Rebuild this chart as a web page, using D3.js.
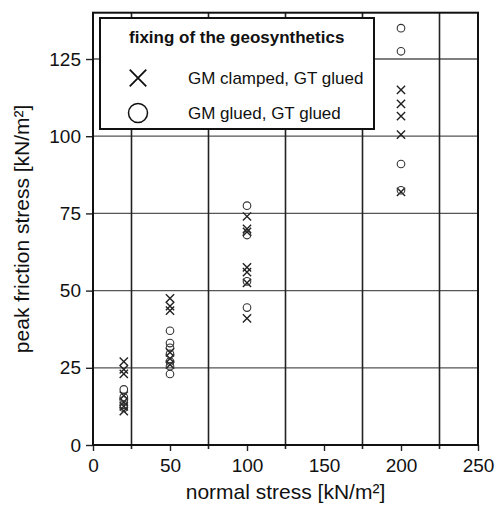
<!DOCTYPE html>
<html><head><meta charset="utf-8">
<script src="https://cdn.jsdelivr.net/npm/d3@7"></script>
<style>html,body{margin:0;padding:0;background:#fff;}svg{display:block;}text{font-family:"Liberation Sans",Arial,sans-serif;fill:#111;}</style>
</head><body>
<script>
// normal stress levels
const clampedX = [20,20,20,20,20,20,20, 50,50,50,50,50,50, 100,100,100,100,100,100,100, 200,200,200,200,200];
const clampedY = [27,24.5,23,16,14,12.5,11, 47.5,45,43.5,30,28,26, 74,70,69,57.5,56,52.5,41, 115,110.5,106.5,100.5,82];
const gluedX = [20,20,20,20,20, 50,50,50,50,50,50,50, 100,100,100,100, 200,200,200,200];
const gluedY = [18,15.5,14.5,13,12, 37,33,31.5,29.5,27,25.5,23, 77.5,68,53,44.5, 135,127.5,91,82.5];
const xTicks = [0,50,100,150,200,250];
const yTicks = [0,25,50,75,100,125];
const xGrid = [25,75,125,175,225];
const yGrid = [25,50,75,100,125];
const legendTitle = "fixing of the geosynthetics";
const seriesNames = ["GM clamped, GT glued","GM glued, GT glued"];
const xTitle = "normal stress [kN/m²]";
const yTitle = "peak friction stress [kN/m²]";

const W=500,H=505;
const svg=d3.select("body").append("svg").attr("width",W).attr("height",H);
const x=d3.scaleLinear().domain([0,250]).range([93,478]);
const y=d3.scaleLinear().domain([0,140]).range([445,12.7]);

// grid
svg.append("g").selectAll("line").data(yGrid).join("line")
  .attr("x1",x(0)).attr("x2",x(250)).attr("y1",d=>y(d)).attr("y2",d=>y(d))
  .attr("stroke","#555").attr("stroke-width",1.3);
svg.append("g").selectAll("line").data(xGrid).join("line")
  .attr("x1",d=>x(d)).attr("x2",d=>x(d)).attr("y1",y(0)+4).attr("y2",y(140))
  .attr("stroke","#222").attr("stroke-width",1.6);

// axes
const xAxis=svg.append("g").attr("transform",`translate(0,${y(0)})`)
  .call(d3.axisBottom(x).tickValues(xTicks).tickSize(6).tickPadding(4).tickFormat(d3.format("d")));
const yAxis=svg.append("g").attr("transform",`translate(${x(0)},0)`)
  .call(d3.axisLeft(y).tickValues(yTicks).tickSize(7).tickPadding(5).tickFormat(d3.format("d")));
[xAxis,yAxis].forEach(a=>{
  a.select(".domain").remove();
  a.selectAll(".tick line").attr("stroke","#222").attr("stroke-width",1.4);
  a.selectAll(".tick text").style("font-size","19px").attr("fill","#111");
});
xAxis.selectAll(".tick text").attr("dy","0.9em");

// frame
svg.append("rect").attr("x",x(0)).attr("y",y(140)).attr("width",x(250)-x(0)).attr("height",y(0)-y(140))
  .attr("fill","none").attr("stroke","#111").attr("stroke-width",2);

// marks
const cross=d3.symbol().type(d3.symbolX).size(46);
svg.append("g").selectAll("path").data(clampedX.map((v,i)=>[v,clampedY[i]])).join("path")
  .attr("d",cross).attr("transform",d=>`translate(${x(d[0])},${y(d[1])})`)
  .attr("fill","none").attr("stroke","#222").attr("stroke-width",1.4);
svg.append("g").selectAll("circle").data(gluedX.map((v,i)=>[v,gluedY[i]])).join("circle")
  .attr("cx",d=>x(d[0])).attr("cy",d=>y(d[1])).attr("r",3.8)
  .attr("fill","none").attr("stroke","#333").attr("stroke-width",1.1);

// legend
const lg=svg.append("g");
lg.append("rect").attr("x",100).attr("y",18).attr("width",274).attr("height",111)
  .attr("fill","#fff").attr("stroke","#111").attr("stroke-width",2);
lg.append("text").attr("x",129).attr("y",43).text(legendTitle).style("font-size","17px").style("font-weight","bold");
lg.append("path").attr("d",d3.symbol().type(d3.symbolX).size(180)()).attr("transform","translate(138,78)")
  .attr("fill","none").attr("stroke","#111").attr("stroke-width",1.8);
lg.append("circle").attr("cx",138).attr("cy",113).attr("r",9.5).attr("fill","none").attr("stroke","#111").attr("stroke-width",1.5);
lg.append("text").attr("x",188).attr("y",84).text(seriesNames[0]).style("font-size","17px");
lg.append("text").attr("x",188).attr("y",119).text(seriesNames[1]).style("font-size","17px");

// titles
svg.append("text").attr("x",(x(0)+x(250))/2).attr("y",499).attr("text-anchor","middle")
  .style("font-size","21px").text(xTitle);
svg.append("text").attr("transform",`translate(29,${(y(0)+y(140))/2}) rotate(-90)`).attr("text-anchor","middle")
  .style("font-size","21px").text(yTitle);
</script>
</body></html>
